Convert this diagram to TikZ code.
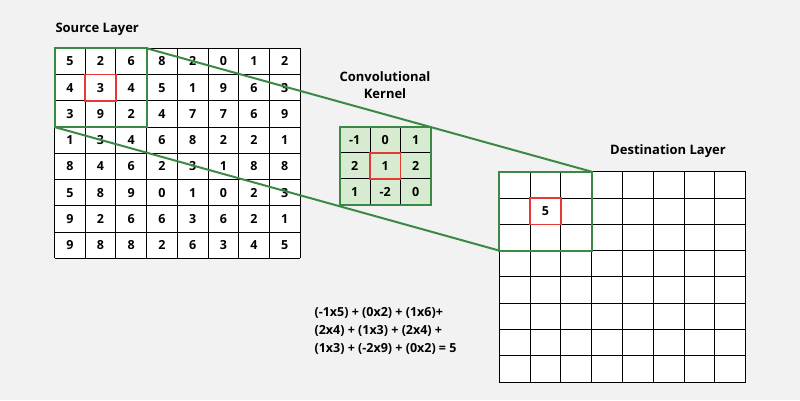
\documentclass[tikz,border=0pt]{standalone}
\usepackage{fontspec}
\setmainfont{Open Sans}
\definecolor{bg}{HTML}{F2F2F2}
\definecolor{gr}{HTML}{3A8A45}
\definecolor{kf}{HTML}{D6EBCF}
\definecolor{rd}{HTML}{E53935}
\begin{document}
\begin{tikzpicture}[x=1pt,y=-1pt,
  num/.style={font=\bfseries\fontsize{12.5}{14}\selectfont},
  ttl/.style={font=\bfseries\fontsize{13}{17}\selectfont,align=center},
  grn/.style={draw=gr,line width=2pt},
  red/.style={draw=rd,line width=1.5pt}]
\fill[bg] (0,0) rectangle (800,400);
\useasboundingbox (0,0) rectangle (800,400);
% source grid
\def\sw{30.7}\def\sh{26.25}
\fill[white] (54.5,48.3) rectangle (300,258.3);
\foreach \i in {0,...,8}{\draw[line width=0.9pt] (54.5+\i*\sw,48.3) -- (54.5+\i*\sw,258.3);
  \draw[line width=0.9pt] (54.5,48.3+\i*\sh) -- (300,48.3+\i*\sh);}
\foreach \row [count=\r from 0] in {{5,2,6,8,2,0,1,2},{4,3,4,5,1,9,6,3},{3,9,2,4,7,7,6,9},{1,3,4,6,8,2,2,1},{8,4,6,2,3,1,8,8},{5,8,9,0,1,0,2,3},{9,2,6,6,3,6,2,1},{9,8,8,2,6,3,4,5}}{
  \foreach \v [count=\c from 0] in \row {\node[num] (s\r\c) at (54.5+\c*\sw+\sw/2,48.3+\r*\sh+\sh/2) {\v};}}
% kernel
\def\kw{30.5}\def\kh{26.1}
\fill[kf] (339.5,126.7) rectangle (431,205);
\foreach \i in {0,...,3}{\draw[line width=0.9pt] (339.5+\i*\kw,126.7) -- (339.5+\i*\kw,205);
  \draw[line width=0.9pt] (339.5,126.7+\i*\kh) -- (431,126.7+\i*\kh);}
\foreach \row [count=\r from 0] in {{-1,0,1},{2,1,2},{1,-2,0}}{
  \foreach \v [count=\c from 0] in \row {\node[num] (k\r\c) at (339.5+\c*\kw+\kw/2,126.7+\r*\kh+\kh/2) {\v};}}
\draw[grn] (339.5,126.7) rectangle (431,205);
\draw[red] (339.5+\kw,126.7+\kh) rectangle (339.5+2*\kw,126.7+2*\kh);
% destination
\def\dw{30.8}\def\dh{26.3}
\fill[white] (499.3,171.7) rectangle (745.7,382.3);
\foreach \i in {0,...,8}{\draw[line width=0.9pt] (499.3+\i*\dw,171.7) -- (499.3+\i*\dw,382.3);
  \draw[line width=0.9pt] (499.3,171.7+\i*\dh) -- (745.7,171.7+\i*\dh);}
\node[num] (d11) at (499.3+1.5*\dw,171.7+1.5*\dh) {5};
% highlights
\draw[red] (54.5+\sw,48.3+\sh) rectangle (54.5+2*\sw,48.3+2*\sh);
\draw[red] (499.3+\dw,171.7+\dh) rectangle (499.3+2*\dw,171.7+2*\dh);
\draw[grn] (54.5,48.3) rectangle (54.5+3*\sw,48.3+3*\sh);
\draw[grn] (499.3,171.7) rectangle (499.3+3*\dw,171.7+3*\dh);
\coordinate (sa) at (54.5+3*\sw,48.3);
\coordinate (sb) at (54.5,48.3+3*\sh);
\coordinate (da) at (499.3+3*\dw,171.7);
\coordinate (db) at (499.3,171.7+3*\dh);
\draw[grn] (sa) -- (da);
\draw[grn] (sb) -- (db);
% titles
\node[ttl,anchor=west] (t1) at (52,29) {Source Layer};
\node[ttl] (t2) at (385,85) {Convolutional\\Kernel};
\node[ttl] (t3) at (668,151) {Destination Layer};
\node[font=\bfseries\fontsize{12.5}{18}\selectfont,align=left,anchor=west] (f) at (311,331) {(-1x5) + (0x2) + (1x6)+\\(2x4) + (1x3) + (2x4) +\\(1x3) + (-2x9) + (0x2) = 5};
\end{tikzpicture}
\end{document}
